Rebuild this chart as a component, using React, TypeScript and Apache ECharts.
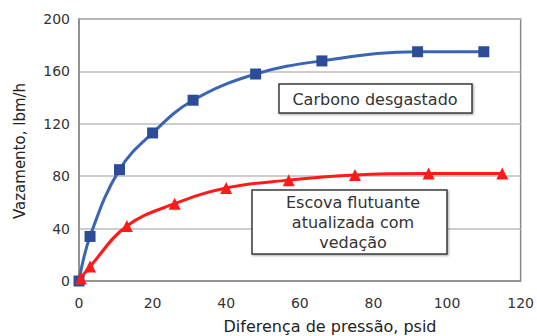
import React, { useEffect, useRef } from "react";
import * as echarts from "echarts";

const xTicks = [0, 20, 40, 60, 80, 100, 120];
const yTicks = [0, 40, 80, 120, 160, 200];

const carbonoX = [0, 3, 11, 20, 31, 48, 66, 92, 110];
const carbonoY = [0, 34, 85, 113, 138, 158, 168, 175, 175];

const escovaX = [0.5, 3, 13, 26, 40, 57, 75, 95, 115];
const escovaY = [2, 11, 42, 59, 71, 77, 81, 82, 82];

const xTitle = "Diferença de pressão, psid";
const yTitle = "Vazamento, lbm/h";
const labelCarbono = "Carbono desgastado";
const labelEscova = "Escova flutuante\natualizada com\nvedação";

const FONT = "'DejaVu Sans', 'Liberation Sans', Arial, sans-serif";

export default function App() {
  const ref = useRef<HTMLDivElement>(null);
  useEffect(() => {
    if (!ref.current) return;
    const chart = echarts.init(ref.current, undefined, { renderer: "svg" });
    const pairs = (xs: number[], ys: number[]) => xs.map((x, i) => [x, ys[i]]);
    chart.setOption({
      animation: false,
      backgroundColor: "#ffffff",
      textStyle: { fontFamily: FONT },
      grid: {
        left: 79,
        right: 15,
        top: 19,
        bottom: 55,
        show: true,
        borderColor: "#8a8a8a",
        borderWidth: 1.5,
      },
      xAxis: {
        type: "value",
        min: xTicks[0],
        max: xTicks[xTicks.length - 1],
        interval: 20,
        axisLine: { show: true, lineStyle: { color: "#8a8a8a", width: 1.5 } },
        axisTick: { show: false },
        splitLine: { show: false },
        axisLabel: { color: "#333", fontSize: 14, margin: 15, fontFamily: FONT },
      },
      yAxis: {
        type: "value",
        min: yTicks[0],
        max: yTicks[yTicks.length - 1],
        interval: 40,
        axisLine: { show: true, lineStyle: { color: "#8a8a8a", width: 1.5 } },
        axisTick: { show: false },
        splitLine: { show: true, lineStyle: { color: "#bdbdbd", width: 1.5 } },
        axisLabel: { color: "#333", fontSize: 14, margin: 9, fontFamily: FONT },
      },
      series: [
        {
          type: "line",
          name: "Carbono desgastado",
          data: pairs(carbonoX, carbonoY),
          smooth: 0.4,
          symbol: "rect",
          symbolSize: 11,
          lineStyle: { color: "#3a64b4", width: 3 },
          itemStyle: { color: "#2d4c98" },
          z: 3,
        },
        {
          type: "line",
          name: "Escova",
          data: pairs(escovaX, escovaY),
          smooth: 0.4,
          symbol: "triangle",
          symbolSize: 12,
          lineStyle: { color: "#ff1a1a", width: 3 },
          itemStyle: { color: "#ff1a1a" },
          z: 3,
        },
      ],
      graphic: [
        {
          type: "rect",
          shape: { x: 279, y: 84, width: 193, height: 29 },
          style: {
            fill: "#ffffff",
            stroke: "#3a3a3a",
            lineWidth: 1.5,
            shadowColor: "rgba(0,0,0,0.35)",
            shadowBlur: 2,
            shadowOffsetX: 1,
            shadowOffsetY: 1,
          },
          z: 10,
        },
        {
          type: "text",
          x: 375,
          y: 99,
          style: {
            text: labelCarbono,
            font: `16px ${FONT}`,
            fill: "#333",
            align: "center",
            verticalAlign: "middle",
          },
          z: 11,
        },
        {
          type: "rect",
          shape: { x: 252, y: 190, width: 195, height: 64 },
          style: {
            fill: "#ffffff",
            stroke: "#3a3a3a",
            lineWidth: 1.5,
            shadowColor: "rgba(0,0,0,0.35)",
            shadowBlur: 2,
            shadowOffsetX: 1,
            shadowOffsetY: 1,
          },
          z: 10,
        },
        {
          type: "text",
          x: 353,
          y: 222,
          style: {
            text: labelEscova,
            font: `16px ${FONT}`,
            lineHeight: 20,
            fill: "#333",
            align: "center",
            verticalAlign: "middle",
          },
          z: 11,
        },
        {
          type: "text",
          x: 330,
          y: 326,
          style: {
            text: xTitle,
            font: `16px ${FONT}`,
            fill: "#222",
            align: "center",
            verticalAlign: "middle",
          },
        },
        {
          type: "text",
          x: 20,
          y: 151,
          rotation: Math.PI / 2,
          style: {
            text: yTitle,
            font: `15px ${FONT}`,
            fill: "#222",
            align: "center",
            verticalAlign: "middle",
          },
        },
      ],
    });
    return () => chart.dispose();
  }, []);
  return (
    <div
      ref={ref}
      style={{ position: "fixed", left: 0, top: 0, width: 537, height: 336 }}
    />
  );
}
